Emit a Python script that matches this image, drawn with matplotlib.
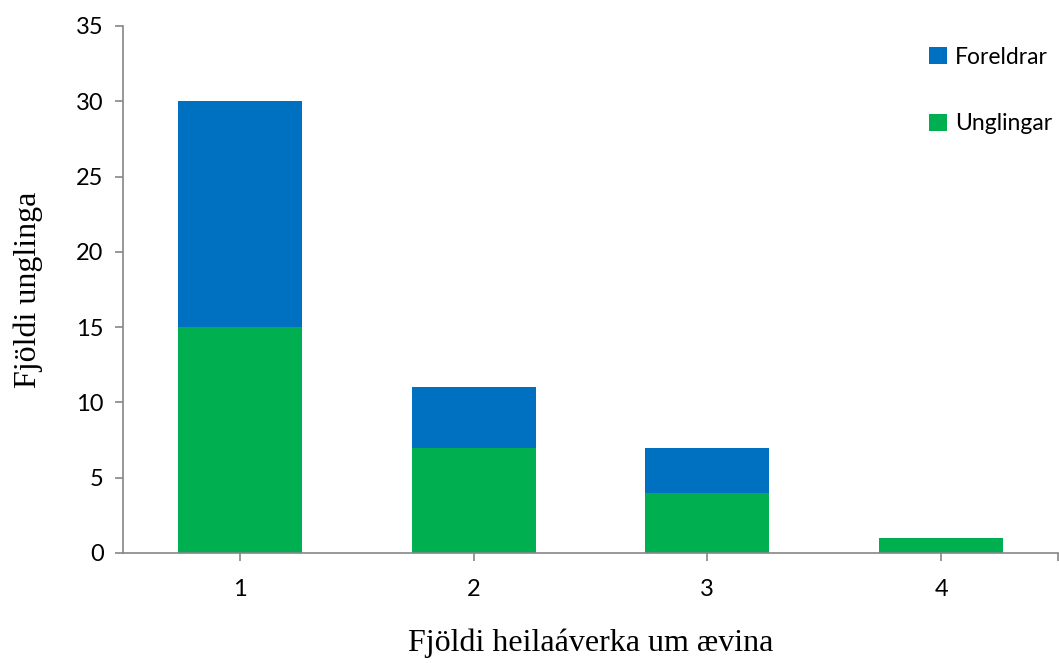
import numpy as np
import matplotlib.pyplot as plt

# Fjöldi heilaáverka um ævina
categories = ["1", "2", "3", "4"]
unglingar = [15, 7, 4, 1]
foreldrar = [15, 4, 3, 0]

fig = plt.figure(figsize=(10.59, 6.63), dpi=100)
ax = fig.add_axes([0.1161, 0.166, 0.8829, 0.7948])

x = np.arange(1, len(categories) + 1)
w = 0.53
ax.bar(x, unglingar, w, color='#00B050', label='Unglingar')
ax.bar(x, foreldrar, w, bottom=unglingar, color='#0070C0', label='Foreldrar')

ax.set_xlim(0.5, 4.5)
ax.set_ylim(0, 35)
ax.set_yticks(range(0, 36, 5))
ax.set_xticks(x)
ax.set_xticklabels(categories)
ax.set_xticks([4.5], minor=True)

for s in ['top', 'right']:
    ax.spines[s].set_visible(False)
for s in ['left', 'bottom']:
    ax.spines[s].set_color('#868686')
    ax.spines[s].set_linewidth(1.2)
ax.tick_params(axis='both', which='both', colors='#868686', length=6,
               width=1.2, labelcolor='black', labelsize=17)
for lab in ax.get_xticklabels() + ax.get_yticklabels():
    lab.set_family('Lato')
ax.tick_params(axis='x', pad=13)
ax.tick_params(axis='y', pad=8)

ax.set_xlabel('Fjöldi heilaáverka um ævina', family='Liberation Serif',
              fontsize=23, labelpad=20)
ax.set_ylabel('Fjöldi unglinga', family='Liberation Serif',
              fontsize=23, labelpad=24)

handles, labels = ax.get_legend_handles_labels()
ax.legend(handles[::-1], labels[::-1], loc='upper left',
          bbox_to_anchor=(0.840, 1.0), frameon=False,
          prop={'family': 'Lato', 'size': 16.5},
          handlelength=0.8, handleheight=0.8, handletextpad=0.35,
          labelspacing=2.0)

fig.savefig('out.png', dpi=100)
